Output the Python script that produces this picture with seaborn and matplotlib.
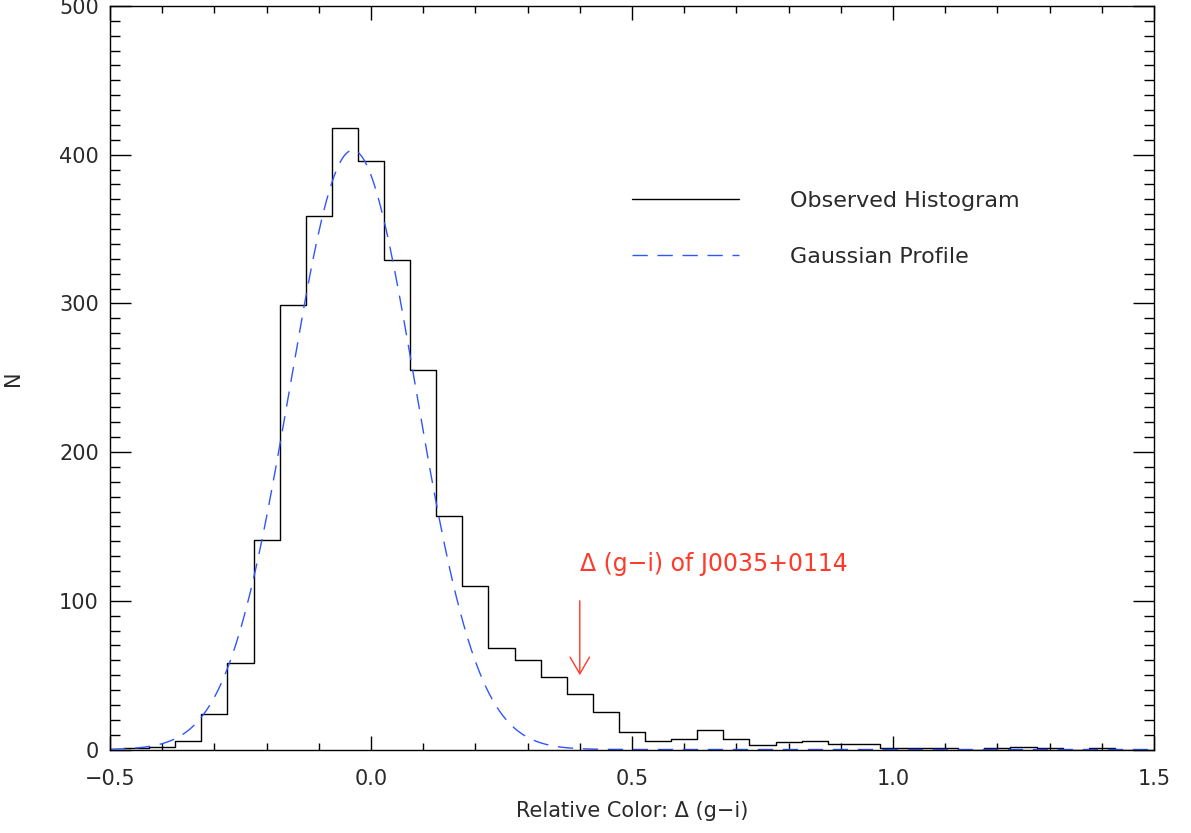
import numpy as np
import pandas as pd
import matplotlib
matplotlib.use("Agg")
import matplotlib.pyplot as plt
import seaborn as sns

# ---- data ----
bin_centers = [-0.45, -0.40, -0.35, -0.30, -0.25, -0.20, -0.15, -0.10, -0.05, 0.00,
               0.05, 0.10, 0.15, 0.20, 0.25, 0.30, 0.35, 0.40, 0.45, 0.50,
               0.55, 0.60, 0.65, 0.70, 0.75, 0.80, 0.85, 0.90, 0.95, 1.00,
               1.05, 1.10, 1.15, 1.20, 1.25, 1.30, 1.35, 1.40, 1.45]
counts = [1, 2, 6, 24, 58, 141, 299, 359, 418, 396,
          329, 255, 157, 110, 68, 60, 49, 37, 25, 12,
          6, 7, 13, 7, 3, 5, 6, 4, 4, 1,
          1, 1, 0, 1, 2, 1, 0, 1, 0]
bin_width = 0.05

# Gaussian profile parameters
gauss_amp = 403.0
gauss_mean = -0.035
gauss_sigma = 0.12

target_x = 0.40
arrow_top, arrow_tip = 100, 50
target_label = "\u0394 (g\u2212i) of J0035+0114"

x_ticks = [-0.5, 0.0, 0.5, 1.0, 1.5]
x_ticklabels = ["\u22120.5", "0.0", "0.5", "1.0", "1.5"]
y_ticks = [0, 100, 200, 300, 400, 500]

# ---- style ----
sns.set_style("ticks", {"xtick.direction": "in", "ytick.direction": "in"})
plt.rcParams["font.family"] = ["DejaVu Sans"]

text_col = "#2a2a2a"

fig = plt.figure(figsize=(11.91, 8.33), dpi=100)
ax = fig.add_axes([110 / 1191, 1 - 749.5 / 833, (1154 - 110) / 1191, (749.5 - 6) / 833])

df = pd.DataFrame({"x": bin_centers, "n": counts})
edges = [float(c - bin_width / 2) for c in bin_centers] + [float(bin_centers[-1] + bin_width / 2)]

sns.histplot(data=df, x="x", weights="n", bins=edges, element="step", fill=False,
             color="black", linewidth=1.0, ax=ax, label="Observed Histogram")

xs = np.linspace(-0.5, 1.5, 801)
gdf = pd.DataFrame({"x": xs,
                    "y": gauss_amp * np.exp(-0.5 * ((xs - gauss_mean) / gauss_sigma) ** 2)})
sns.lineplot(data=gdf, x="x", y="y", color="#2f55ff", linewidth=1.0, ax=ax,
             label="Gaussian Profile")
ax.lines[-1].set_dashes([11, 7])

# annotation arrow + text
ax.annotate("", xy=(target_x, arrow_tip), xytext=(target_x, arrow_top),
            arrowprops=dict(arrowstyle="->,head_length=1.2,head_width=0.7",
                            color="#ff3a2a", lw=1.0, shrinkA=0, shrinkB=0))
ax.text(target_x, 125, target_label, color="#ff3a2a", fontsize=17,
        ha="left", va="center")

# axes
ax.set_xlim(-0.5, 1.5)
ax.set_ylim(0, 500)
ax.set_xticks(x_ticks)
ax.set_xticklabels(x_ticklabels)
ax.set_yticks(y_ticks)
ax.set_xticks(np.arange(-0.5, 1.51, 0.1), minor=True)
ax.set_yticks(np.arange(0, 501, 10), minor=True)
ax.tick_params(axis="both", which="both", direction="in", top=True, right=True,
               labelsize=15, color="black", labelcolor=text_col, width=1.0)
ax.tick_params(axis="x", which="major", length=10, pad=14)
ax.tick_params(axis="x", which="minor", length=5)
ax.tick_params(axis="y", which="major", length=15, pad=8)
ax.tick_params(axis="y", which="minor", length=7.5)
for s in ax.spines.values():
    s.set_visible(True)
    s.set_linewidth(1.0)
    s.set_color("black")

ax.set_xlabel("Relative Color: \u0394 (g\u2212i)", fontsize=15, labelpad=9, color=text_col)
ax.set_ylabel("N", fontsize=15, labelpad=26, color=text_col)

leg = ax.legend(loc="upper left", bbox_to_anchor=(0.481, 0.778), frameon=False,
                fontsize=16, handlelength=4.8, handletextpad=2.3, labelspacing=1.6)
for t in leg.get_texts():
    t.set_color(text_col)

fig.savefig("out.png", dpi=100)
